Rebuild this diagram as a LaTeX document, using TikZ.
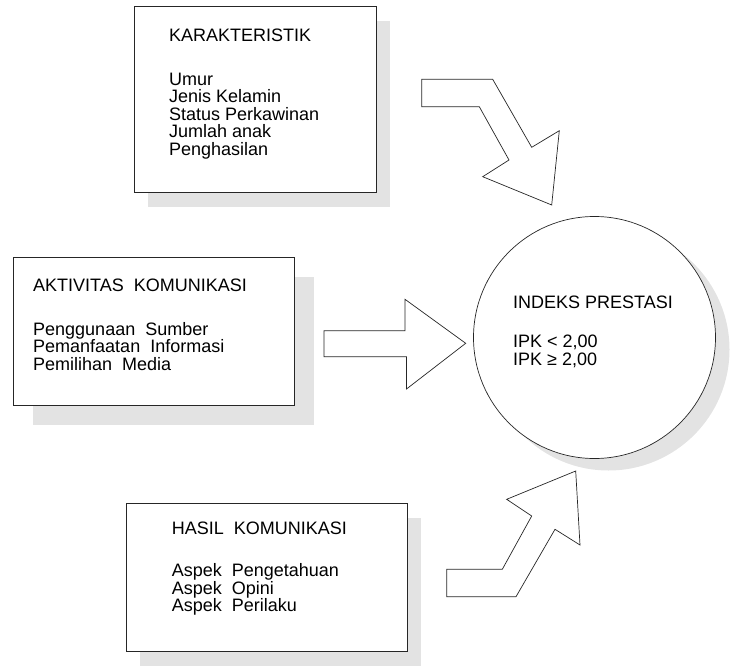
\documentclass[tikz,border=0pt]{standalone}
\usepackage{fontspec}
\setmainfont{Liberation Sans}
\usetikzlibrary{shadows}

\begin{document}
\begin{tikzpicture}[
  x=1pt, y=-1pt,
  font=\fontsize{18}{17.4}\selectfont,
  box/.style={
    draw=black!85, fill=white, line width=0.8pt, inner sep=0pt,
    anchor=north west
  },
  shade14/.style={drop shadow={shadow xshift=14pt, shadow yshift=-15pt,
    fill=black!11, opacity=1}},
  shade20/.style={drop shadow={shadow xshift=20pt, shadow yshift=-20pt,
    fill=black!11, opacity=1}},
  txt/.style={anchor=north west, align=left, inner sep=0pt},
  ipk/.style={circle, draw=black!85, fill=white, line width=0.7pt,
    minimum size=242pt, inner sep=0pt},
  bigarrow/.style={draw=black!85, fill=white, line width=0.7pt, line join=miter}
]
  \useasboundingbox (0,0) rectangle (731,666);

  \node[box, shade14, minimum width=242pt, minimum height=186pt] (karak) at (134,6) {};
  \node[box, shade20, minimum width=281pt, minimum height=148pt] (aktiv) at (13,257) {};
  \node[box, shade14, minimum width=281pt, minimum height=148pt] (hasil) at (126,503) {};
  \node[ipk, drop shadow={shadow xshift=14pt, shadow yshift=-12pt,
    fill=black!11, opacity=1}] (indeks) at (594.5,337.5) {};

  \node[txt] (karakT) at (169,28.8) {KARAKTERISTIK\\[26.5pt]
    Umur\\Jenis Kelamin\\Status Perkawinan\\Jumlah anak\\Penghasilan};
  \node[txt] (aktivT) at (33,278.6) {AKTIVITAS~ KOMUNIKASI\\[26.5pt]
    Penggunaan~ Sumber\\Pemanfaatan~ Informasi\\Pemilihan~ Media};
  \node[txt] (hasilT) at (171.7,521.8) {HASIL~ KOMUNIKASI\\[25pt]
    Aspek~ Pengetahuan\\Aspek~ Opini\\Aspek~ Perilaku};
  \node[txt] (indeksT) at (513,295.8) {INDEKS PRESTASI\\[21.7pt]
    IPK < 2,00\\IPK ≥ 2,00};

  \draw[bigarrow] (421.7,79.3) -- (492.7,79.3) -- (531.7,147.3) -- (559.3,130.7)
    -- (551.7,205) -- (482.7,176.7) -- (509,160) -- (479.3,106.7)
    -- (421.7,106.7) -- cycle;
  \draw[bigarrow] (324,330.7) -- (405,330.7) -- (405,299.3) -- (465.7,343.3)
    -- (406.5,389) -- (406.5,356.7) -- (324,356.7) -- cycle;
  \draw[bigarrow] (446.7,569.3) -- (502.3,569.3) -- (531.7,516) -- (506.7,499.3)
    -- (575.7,471) -- (580,545) -- (555,529.3) -- (516,596.7)
    -- (446.7,596.7) -- cycle;
\end{tikzpicture}
\end{document}
